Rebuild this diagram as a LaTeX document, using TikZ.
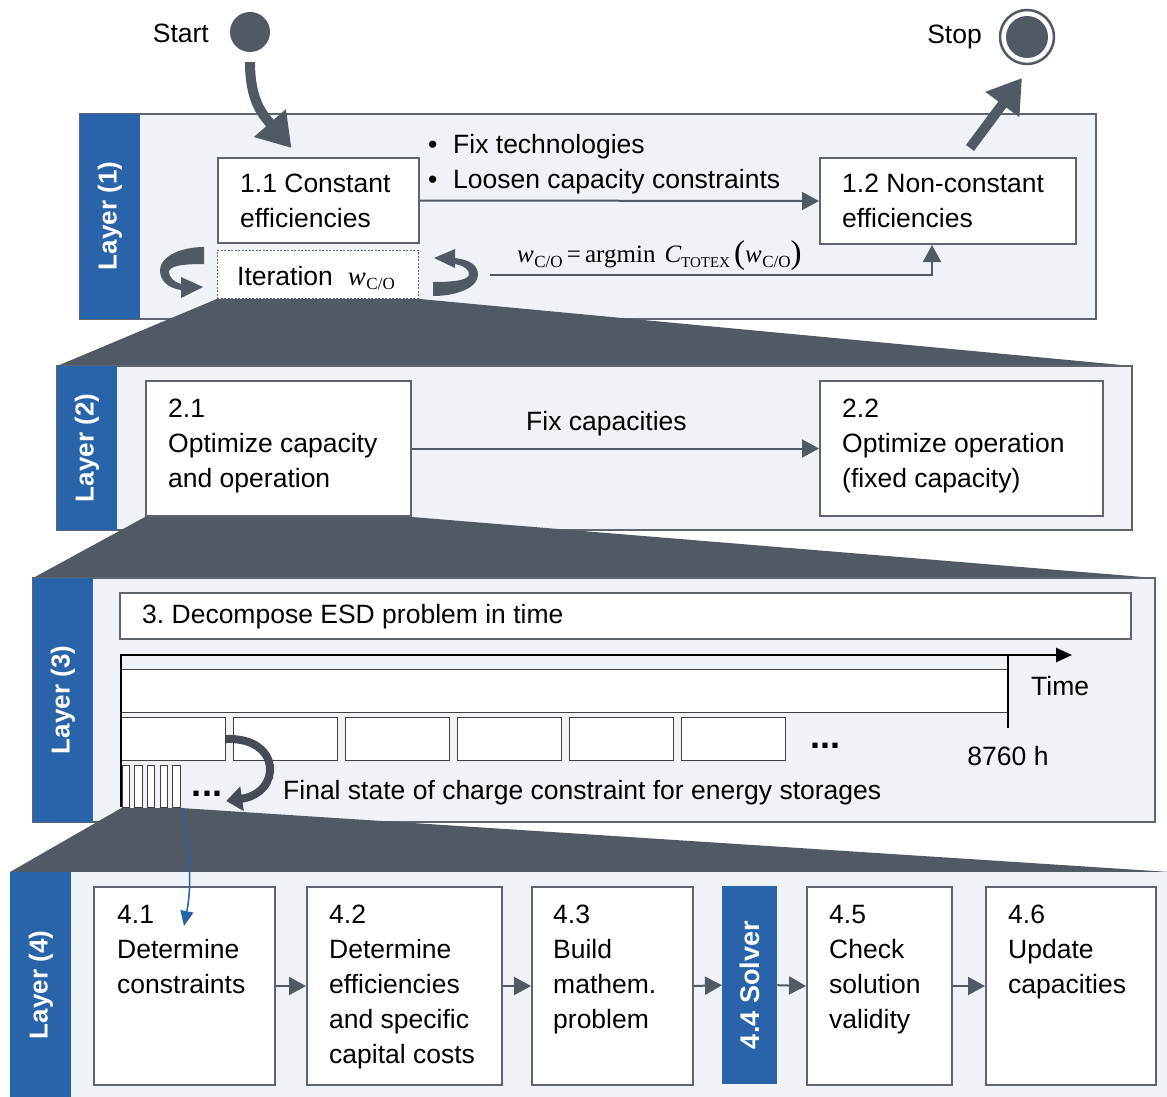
\documentclass[tikz,border=0pt]{standalone}
\usepackage{fontspec}
\setmainfont{Liberation Sans}
\newfontfamily\serifmath{Liberation Serif}
\usetikzlibrary{arrows.meta}
\definecolor{layerblue}{RGB}{41,99,169}
\definecolor{slate}{RGB}{81,90,100}
\definecolor{panelfill}{RGB}{239,243,247}
\definecolor{rim}{RGB}{94,101,110}
% w with subscript C/O, set in a Times-like serif
\newcommand{\wco}{{\serifmath\itshape w}\kern0.5pt\raisebox{-4.5pt}{\serifmath\fontsize{17}{17}\selectfont C/O}}
\tikzset{
  panelbox/.style={fill=panelfill, draw=rim, line width=1.6pt},
  stepbox/.style={draw=rim, fill=white, line width=2pt, inner sep=0, anchor=north west},
  flow/.style={draw=slate, line width=2pt, -{Triangle[width=18pt,length=17pt]}},
  heavyflow/.style={draw=slate, line width=10pt, -{Triangle[width=40pt,length=33pt]}},
  layerlabel/.style={rotate=90, text=white, font=\bfseries\fontsize{26}{30}\selectfont, inner sep=0},
  txt/.style={font=\fontsize{26.5}{35}\selectfont, align=left, inner sep=0},
  zoomband/.style={fill=slate},
  thinbox/.style={draw=black!75, fill=white, line width=1pt, inner sep=0, anchor=north west},
}
\begin{document}
\begin{tikzpicture}[x=1pt, y=-1pt]
\useasboundingbox (0,0) rectangle (1167,1097);

% ---------- start / stop ----------
\node[circle, fill=slate, minimum size=40pt, inner sep=0] (start) at (250,32) {};
\node[txt, anchor=east] (startlbl) at (209,33) {Start};
\node[circle, draw=slate, fill=white, line width=2.5pt, minimum size=54pt, inner sep=0,
      path picture={\fill[slate] (path picture bounding box.center) circle (21pt);}] (stop) at (1027,37) {};
\node[txt, anchor=east] (stoplbl) at (982,37) {Stop};
\coordinate (stopin) at (1022,78);

% ---------- layer 1 ----------
\draw[panelbox] (80,114) rectangle (1096,319);
\fill[layerblue] (80,114) rectangle (140,319);
\node[layerlabel] (lab1) at (110,216) {Layer (1)};

\node[stepbox, minimum width=201pt, minimum height=85pt] (b11) at (217,157) {};
\node[txt, anchor=north west] (t11) at (240,174) {1.1 Constant\\efficiencies};
\node[stepbox, minimum width=256pt, minimum height=86pt] (b12) at (819,157) {};
\node[txt, anchor=north west] (t12) at (842,174) {1.2 Non-constant\\efficiencies};
\node[txt, anchor=north west] (fixlist) at (428,134)
  {\makebox[25pt][l]{\textbullet}Fix technologies\\\makebox[25pt][l]{\textbullet}Loosen capacity constraints};
\draw[flow] (b11.east) -- (b12.west);

\node[draw=rim, fill=white, line width=0.9pt, dash pattern=on 2pt off 1.5pt, inner sep=0,
      minimum width=201pt, minimum height=48pt, anchor=north west] (iter) at (217,250) {};
\node[txt, anchor=west] (itertext) at (237,278) {Iteration\hspace{15pt}{\fontsize{27}{30}\selectfont\wco}};

% iteration loop symbols on both sides
\fill[slate] (204,247) .. controls (180,247) and (160,257) .. (160,270)
  .. controls (160,281) and (168,288) .. (181,290) -- (181,298) -- (203,287) -- (181,277) -- (181,284)
  .. controls (174,282) and (169,277) .. (169,272) .. controls (169,266) and (182,264) .. (204,264) -- cycle;
\fill[slate] (433,296) .. controls (458,296) and (478,287) .. (478,275)
  .. controls (478,265) and (470,260) .. (455,258) -- (455,249) -- (434,258) -- (455,268) -- (455,264)
  .. controls (465,266) and (469,270) .. (469,274) .. controls (469,280) and (455,282) .. (433,282) -- cycle;

\node[txt, anchor=west] (argmin) at (517,256) {\fontsize{25}{30}\selectfont
  \wco\,{\serifmath =\,argmin}\hspace{9pt}{\serifmath\itshape C}\raisebox{-4.5pt}{\serifmath\fontsize{15}{15}\selectfont TOTEX}\,%
  \raisebox{-1pt}{\serifmath\fontsize{33}{33}\selectfont(}\wco\raisebox{-1pt}{\serifmath\fontsize{33}{33}\selectfont)}};
\coordinate (fbstart) at (490,275);
\draw[flow] (fbstart) -| ([xshift=-16pt]b12.south);

% start and stop arrows
\draw[heavyflow] ([yshift=-10pt]start.south) .. controls (250,100) and (262,114) .. ([xshift=-27pt,yshift=9pt]b11.north);
\draw[heavyflow] ([xshift=22pt,yshift=9pt]b12.north) -- (stopin);

% ---------- layer 2 ----------
\fill[zoomband] (iter.south west) -- (iter.south east) -- (1132,366) -- (57,366) -- cycle;
\draw[panelbox] (57,366) rectangle (1132,530);
\fill[layerblue] (57,366) rectangle (117,530);
\node[layerlabel] (lab2) at (87,448) {Layer (2)};

\node[stepbox, minimum width=265pt, minimum height=135pt] (b21) at (145,380) {};
\node[txt, anchor=north west] (t21) at (168,399) {2.1\\Optimize capacity\\and operation};
\node[stepbox, minimum width=283pt, minimum height=135pt] (b22) at (819,380) {};
\node[txt, anchor=north west] (t22) at (842,399) {2.2\\Optimize operation\\(fixed capacity)};
\draw[flow] (b21.east) -- node[txt, above=12pt, xshift=-9pt] (fixcap) {Fix capacities} (b22.west);

% ---------- layer 3 ----------
\fill[zoomband] (b21.south west) -- (b21.south east) -- (1155,578) -- (33,578) -- cycle;
\draw[panelbox] (33,578) rectangle (1155,822);
\fill[layerblue] (33,578) rectangle (93,822);
\node[layerlabel] (lab3) at (63,700) {Layer (3)};

\node[stepbox, minimum width=1011pt, minimum height=46pt] (b3) at (119,592) {};
\node[txt, anchor=west] (t3) at (142,617) {3.\ Decompose ESD problem in time};

% time line
\draw[black!80, line width=1pt] (121,655) rectangle (1008,669);
\node[thinbox, minimum width=887pt, minimum height=43pt] (year) at (121,669) {};
\foreach \k in {1,...,6}
  \node[thinbox, minimum width=104pt, minimum height=43pt] (m\k) at ({121+112*(\k-1)},717) {};
\foreach \k in {1,...,5}
  \node[thinbox, minimum width=7.5pt, minimum height=42pt] (d\k) at ({121.5+12.7*(\k-1)},765) {};
\draw[black, line width=2.5pt, -{Triangle[width=14pt,length=16pt]}] (121,655) -- (1072,655);
\draw[black, line width=2.5pt] (121,654) -- (121,807);
\draw[black, line width=2.5pt] (1008,655) -- (1008,728);
\node[txt, anchor=west] (timelbl) at (1031,686) {Time};
\node[txt] (hours) at (1008,756) {8760 h};
\node[txt, font=\bfseries\fontsize{36}{36}\selectfont] (mdots) at (825,746) {...};
\node[txt, font=\bfseries\fontsize{36}{36}\selectfont] (ddots) at (207,794) {...};
\node[txt, anchor=west] (soc) at (283,793) {Final state of charge constraint for energy storages};
\draw[draw=slate!85!black, line width=8pt, -{Triangle[width=24pt,length=16pt]}]
  (m1.east) .. controls (282,737) and (282,793) .. ([xshift=4pt,yshift=-7pt]ddots.east);

% ---------- layer 4 ----------
\fill[zoomband] (d1.south west) -- (d5.south east) -- (1170,872) -- (10,872) -- cycle;
\fill[panelfill] (10,872) rectangle (1175,1105);
\fill[layerblue] (10,872) rectangle (71,1105);
\node[layerlabel] (lab4) at (41,985) {Layer (4)};

\node[stepbox, minimum width=181pt, minimum height=198pt] (b41) at (93,886) {};
\node[txt, anchor=north west] (t41) at (117,905) {4.1\\Determine\\constraints};
\node[stepbox, minimum width=195pt, minimum height=198pt] (b42) at (306,886) {};
\node[txt, anchor=north west] (t42) at (329,905) {4.2\\Determine\\efficiencies\\and specific\\capital costs};
\node[stepbox, minimum width=161pt, minimum height=198pt] (b43) at (531,886) {};
\node[txt, anchor=north west] (t43) at (553,905) {4.3\\Build\\mathem.\\problem};
\node[fill=layerblue, inner sep=0, minimum width=55pt, minimum height=198pt, anchor=north west] (b44) at (722,886) {};
\node[layerlabel, font=\bfseries\fontsize{27}{30}\selectfont] (t44) at (b44.center) {4.4 Solver};
\node[stepbox, minimum width=145pt, minimum height=198pt] (b45) at (806,886) {};
\node[txt, anchor=north west] (t45) at (829,905) {4.5\\Check\\solution\\validity};
\node[stepbox, minimum width=170pt, minimum height=198pt] (b46) at (985,886) {};
\node[txt, anchor=north west] (t46) at (1008,905) {4.6\\Update\\capacities};

\draw[flow] (b41.east) -- (b42.west);
\draw[flow] (b42.east) -- (b43.west);
\draw[flow] (b43.east) -- (b44.west);
\draw[flow] (b44.east) -- (b45.west);
\draw[flow] (b45.east) -- (b46.west);

\coordinate (blueend) at (184,926);
\draw[layerblue, line width=1.6pt, -{Triangle[width=13pt,length=15pt]}]
  ([xshift=2pt]d5.south east) .. controls (188,845) and (193,880) .. (blueend);
\end{tikzpicture}
\end{document}
